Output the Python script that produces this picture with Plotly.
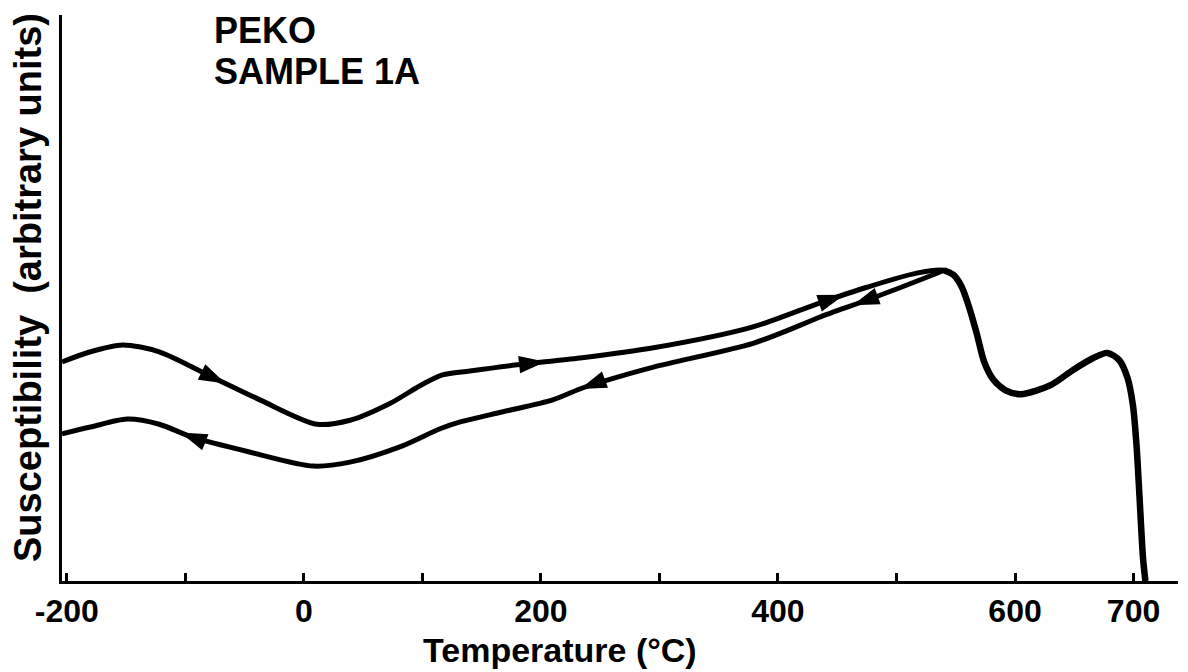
import numpy as np
import plotly.graph_objects as go

# ---- data ----
heat_T = [-204, -180, -153, -122, -77, -37, 11, 39, 73, 98, 117, 140, 180, 233, 295, 379,
          435, 475, 517, 540, 548, 555, 562, 568, 574, 582, 592, 605, 630, 649, 666, 678,
          688, 695, 699.5, 702.5, 705, 708, 710]
heat_y = [3.87, 4.05, 4.17, 4.05, 3.60, 3.20, 2.77, 2.84, 3.14, 3.45, 3.64, 3.71, 3.82, 3.94, 4.12, 4.49,
          4.91, 5.19, 5.44, 5.49, 5.41, 5.20, 4.79, 4.35, 3.87, 3.55, 3.37, 3.30, 3.46, 3.73, 3.94, 4.03,
          3.90, 3.58, 3.10, 2.40, 1.50, 0.40, 0.0]

cool_T = [-204, -180, -149, -122, -94, -46, 8, 39, 81, 115, 132, 168, 210, 235, 256, 295, 379,
          419, 435, 480, 531, 540]
cool_y = [2.60, 2.72, 2.86, 2.77, 2.54, 2.28, 2.03, 2.10, 2.37, 2.69, 2.81, 2.99, 3.20, 3.41, 3.55, 3.78, 4.20,
          4.52, 4.66, 5.00, 5.41, 5.49]

heat_arrow_T = [-66, 204, 456]
cool_arrow_T = [-104, 233, 463]

tick_vals = [-200, -100, 0, 100, 200, 300, 400, 500, 600, 700]
tick_text = ["-200", "", "0", "", "200", "", "400", "", "600", "700"]

x_title = "Temperature (°C)"
y_title = "Susceptibility  (arbitrary units)"
label_lines = ["PEKO", "SAMPLE 1A"]

# ---- layout geometry ----
W, H = 1188, 672
ML, MR, MT, MB = 62, 10, 15, 91
X_RANGE = [-204, 737.5]
Y_RANGE = [0, 10]
PW, PH = W - ML - MR, H - MT - MB
PX_X = PW / (X_RANGE[1] - X_RANGE[0])
PX_Y = PH / (Y_RANGE[1] - Y_RANGE[0])

FONT = "Liberation Sans"


def arrows(T_list, xs, ys, direction):
    xs = np.asarray(xs, float)
    ys = np.asarray(ys, float)
    T = np.asarray(T_list, float)
    yv = np.interp(T, xs, ys)
    d = 8.0
    slope = (np.interp(T + d, xs, ys) - np.interp(T - d, xs, ys)) / (2 * d)
    dx = direction * PX_X
    dy = direction * slope * PX_Y
    ang = np.degrees(np.arctan2(dx, dy))
    return T, yv, ang


fig = go.Figure()

line_style = dict(color="black", width=5, shape="spline", smoothing=0.8)

fig.add_trace(go.Scatter(x=heat_T, y=heat_y, mode="lines", line=line_style,
                         hoverinfo="skip", showlegend=False))
fig.add_trace(go.Scatter(x=cool_T, y=cool_y, mode="lines", line=line_style,
                         hoverinfo="skip", showlegend=False))

# thicker high-temperature part of heating curve
hT = np.asarray(heat_T, float)
hy = np.asarray(heat_y, float)
mask = hT >= 540
fig.add_trace(go.Scatter(x=hT[mask], y=hy[mask], mode="lines",
                         line=dict(color="black", width=6.5, shape="spline", smoothing=0.8),
                         hoverinfo="skip", showlegend=False))

for T_list, xs, ys, direc in [(heat_arrow_T, heat_T, heat_y, 1), (cool_arrow_T, cool_T, cool_y, -1)]:
    ax, ay, ang = arrows(T_list, xs, ys, direc)
    fig.add_trace(go.Scatter(x=ax, y=ay, mode="markers",
                             marker=dict(symbol="arrow", size=28, angle=list(ang), color="black",
                                         line=dict(width=0)),
                             hoverinfo="skip", showlegend=False))

annotations = [
    dict(text=y_title, xref="paper", yref="paper", x=(28 - ML) / PW, y=(H - MB - 288) / PH,
         textangle=-90, showarrow=False, xanchor="center", yanchor="middle",
         font=dict(family=FONT, size=38, color="black", weight="bold")),
    dict(text=x_title, xref="paper", yref="paper", x=(560 - ML) / PW, y=(H - MB - 650) / PH,
         showarrow=False, xanchor="center", yanchor="middle",
         font=dict(family=FONT, size=34, color="black", weight="bold")),
    dict(text=label_lines[0], xref="paper", yref="paper", x=(212 - ML) / PW, y=(H - MB - 31) / PH,
         showarrow=False, xanchor="left", yanchor="middle",
         font=dict(family=FONT, size=36, color="black", weight="bold")),
    dict(text=label_lines[1], xref="paper", yref="paper", x=(212 - ML) / PW, y=(H - MB - 71) / PH,
         showarrow=False, xanchor="left", yanchor="middle",
         font=dict(family=FONT, size=36, color="black", weight="bold")),
]

fig.update_layout(
    width=W, height=H,
    margin=dict(l=ML, r=MR, t=MT, b=MB, pad=0),
    paper_bgcolor="white", plot_bgcolor="white",
    showlegend=False,
    annotations=annotations,
    xaxis=dict(range=X_RANGE, showgrid=False, zeroline=False,
               showline=True, linecolor="black", linewidth=3,
               tickmode="array", tickvals=tick_vals, ticktext=tick_text,
               ticks="inside", ticklen=8, tickwidth=2.5, tickcolor="black",
               tickfont=dict(family=FONT, size=32, color="black", weight="bold"),
               fixedrange=True),
    yaxis=dict(range=Y_RANGE, showgrid=False, zeroline=False,
               showline=True, linecolor="black", linewidth=3,
               showticklabels=False, ticks="", fixedrange=True),
)

fig.write_html("out.html", config={"displayModeBar": False})
